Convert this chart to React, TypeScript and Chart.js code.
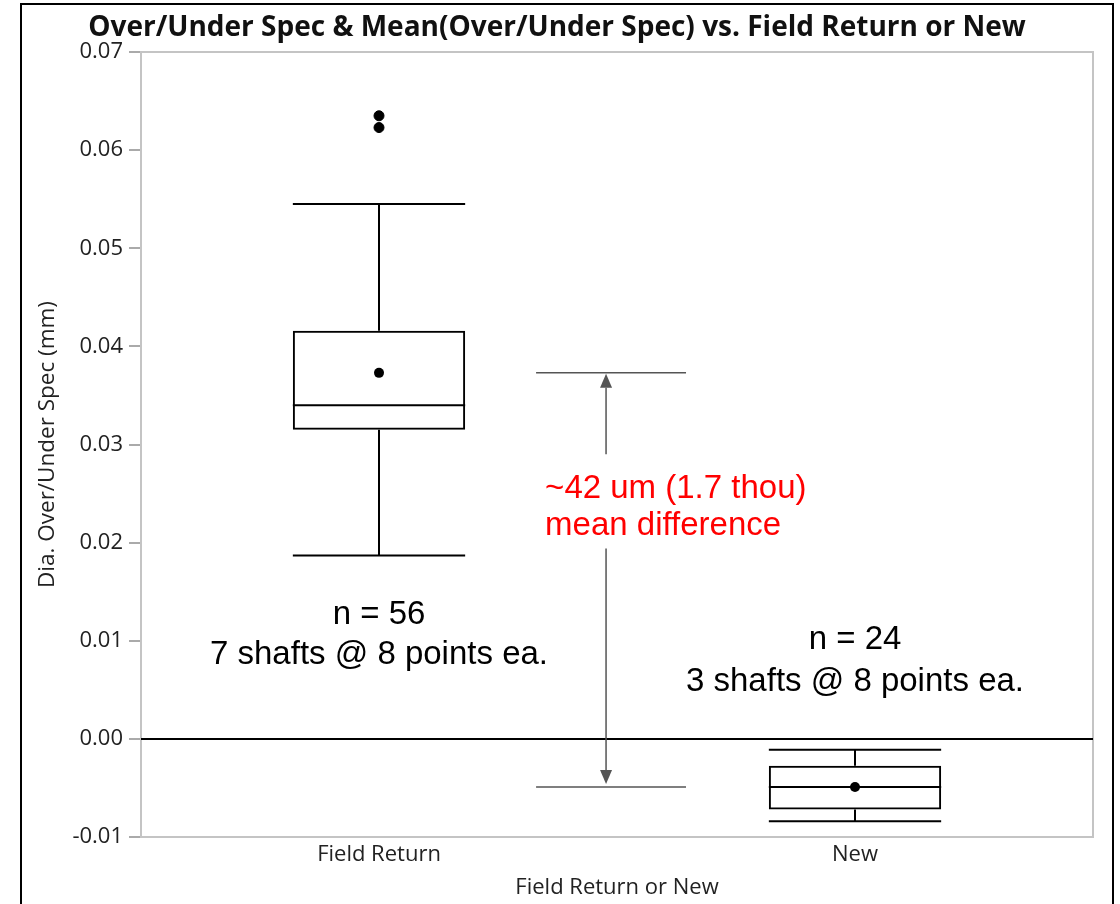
import React, { useEffect, useRef } from 'react';
import { Chart, registerables } from 'chart.js';

Chart.register(...registerables);

// ---- data ----
const categories = ['Field Return', 'New'];
const q1Values = [0.0315, -0.0072];
const q3Values = [0.0416, -0.00275];
const medianValues = [0.034, -0.0049];
const whiskerLowValues = [0.0187, -0.0084];
const whiskerHighValues = [0.0545, -0.0011];
const meanValues = [0.0373, -0.0049];
const outlierPoints = [
  { x: 'Field Return', y: 0.0623 },
  { x: 'Field Return', y: 0.0635 },
];
const yTickValues = [-0.01, 0, 0.01, 0.02, 0.03, 0.04, 0.05, 0.06, 0.07];

const titleText = 'Over/Under Spec & Mean(Over/Under Spec) vs. Field Return or New';
const yTitle = 'Dia. Over/Under Spec (mm)';
const xTitle = 'Field Return or New';

// count annotations (per category), value positions
const countLines = [
  ['n = 56', '7 shafts @ 8 points ea.'],
  ['n = 24', '3 shafts @ 8 points ea.'],
];
const countLineY = [
  [0.0126, 0.0086],
  [0.0101, 0.0058],
];
// mean-difference annotation (x in category-index units, y in data units)
const diffLines = ['~42 um (1.7 thou)', 'mean difference'];
const diffTextX = 0.349;
const diffTextY = [0.0255, 0.0217];
const bracketX = [0.33, 0.645];
const arrowX = 0.477;
const arrowGap = [0.029, 0.0194];

const AXIS_FONT = '"Open Sans", "Noto Sans", sans-serif';
const NOTE_FONT = '"Liberation Sans", Arial, sans-serif';

const extrasPlugin = {
  id: 'boxExtras',
  beforeDraw(chart: any) {
    const { ctx, width, height } = chart;
    ctx.save();
    ctx.fillStyle = '#ffffff';
    ctx.fillRect(0, 0, width, height);
    ctx.strokeStyle = '#000';
    ctx.lineWidth = 2;
    ctx.strokeRect(21, 4, 1092, height + 40);
    ctx.restore();
  },
  beforeDatasetsDraw(chart: any) {
    const { ctx, chartArea: a, scales } = chart;
    const y = scales.y;
    ctx.save();
    ctx.strokeStyle = '#c4c4c4';
    ctx.lineWidth = 2;
    ctx.strokeRect(a.left, a.top, a.right - a.left, a.bottom - a.top);
    const y0 = y.getPixelForValue(0);
    ctx.strokeStyle = '#000';
    ctx.lineWidth = 2;
    ctx.beginPath();
    ctx.moveTo(a.left, y0);
    ctx.lineTo(a.right, y0);
    ctx.stroke();
    ctx.restore();
  },
  afterDatasetsDraw(chart: any) {
    const { ctx, scales } = chart;
    const x = scales.x;
    const y = scales.y;
    const barMeta = chart.getDatasetMeta(chart.data.datasets.findIndex((d: any) => d.type === 'bar'));
    ctx.save();
    ctx.strokeStyle = '#000';
    ctx.lineWidth = 2;
    categories.forEach((_, i) => {
      const el: any = barMeta.data[i];
      const cx = x.getPixelForValue(i);
      const half = el.width / 2;
      const line = (x1: number, y1: number, x2: number, y2: number) => {
        ctx.beginPath();
        ctx.moveTo(x1, y1);
        ctx.lineTo(x2, y2);
        ctx.stroke();
      };
      const pHi = y.getPixelForValue(whiskerHighValues[i]);
      const pLo = y.getPixelForValue(whiskerLowValues[i]);
      const pQ3 = y.getPixelForValue(q3Values[i]);
      const pQ1 = y.getPixelForValue(q1Values[i]);
      const pMed = y.getPixelForValue(medianValues[i]);
      line(cx, pHi, cx, pQ3);
      line(cx, pQ1, cx, pLo);
      line(cx - half, pHi, cx + half, pHi);
      line(cx - half, pLo, cx + half, pLo);
      line(cx - half, pMed, cx + half, pMed);
    });
    // mean dots above median
    ctx.fillStyle = '#000';
    meanValues.forEach((m, i) => {
      ctx.beginPath();
      ctx.arc(x.getPixelForValue(i), y.getPixelForValue(m), 5, 0, Math.PI * 2);
      ctx.fill();
    });

    // mean difference bracket
    ctx.strokeStyle = '#555';
    ctx.fillStyle = '#555';
    ctx.lineWidth = 1.5;
    const bx1 = x.getPixelForValue(bracketX[0]);
    const bx2 = x.getPixelForValue(bracketX[1]);
    const yTop = y.getPixelForValue(meanValues[0]);
    const yBot = y.getPixelForValue(meanValues[1]);
    [yTop, yBot].forEach((py) => {
      ctx.beginPath();
      ctx.moveTo(bx1, py);
      ctx.lineTo(bx2, py);
      ctx.stroke();
    });
    const ax = x.getPixelForValue(arrowX);
    const gapTop = y.getPixelForValue(arrowGap[0]);
    const gapBot = y.getPixelForValue(arrowGap[1]);
    const headH = 14;
    const headW = 6;
    const tipTop = yTop + 1;
    const tipBot = yBot - 3;
    ctx.beginPath();
    ctx.moveTo(ax, tipTop + headH);
    ctx.lineTo(ax, gapTop);
    ctx.moveTo(ax, gapBot);
    ctx.lineTo(ax, tipBot - headH);
    ctx.stroke();
    ctx.beginPath();
    ctx.moveTo(ax, tipTop);
    ctx.lineTo(ax - headW, tipTop + headH);
    ctx.lineTo(ax + headW, tipTop + headH);
    ctx.closePath();
    ctx.fill();
    ctx.beginPath();
    ctx.moveTo(ax, tipBot);
    ctx.lineTo(ax - headW, tipBot - headH);
    ctx.lineTo(ax + headW, tipBot - headH);
    ctx.closePath();
    ctx.fill();

    // red annotation
    ctx.font = `33px ${NOTE_FONT}`;
    ctx.fillStyle = '#ff0000';
    ctx.textAlign = 'left';
    ctx.textBaseline = 'middle';
    const tx = x.getPixelForValue(diffTextX);
    diffLines.forEach((t, k) => ctx.fillText(t, tx, y.getPixelForValue(diffTextY[k])));

    // count annotations
    ctx.fillStyle = '#000';
    ctx.textAlign = 'center';
    countLines.forEach((lines, i) => {
      const cx = x.getPixelForValue(i);
      lines.forEach((t, k) => ctx.fillText(t, cx, y.getPixelForValue(countLineY[i][k])));
    });

    // title
    ctx.font = `bold 28px ${AXIS_FONT}`;
    ctx.fillStyle = '#111';
    ctx.textAlign = 'center';
    ctx.textBaseline = 'middle';
    ctx.fillText(titleText, 557, 28);
    ctx.restore();
  },
};

export default function App() {
  const canvasRef = useRef<HTMLCanvasElement | null>(null);

  useEffect(() => {
    if (!canvasRef.current) return;
    const chart = new Chart(canvasRef.current, {
      type: 'bar',
      data: {
        labels: categories,
        datasets: [
          {
            type: 'scatter',
            label: 'Outliers',
            data: outlierPoints,
            backgroundColor: '#000',
            borderColor: '#000',
            pointRadius: 5,
            pointHoverRadius: 5,
          } as any,
          {
            type: 'bar',
            label: 'Box',
            data: categories.map((_, i) => [q1Values[i], q3Values[i]]),
            backgroundColor: 'rgba(0,0,0,0)',
            borderColor: '#000',
            borderWidth: 2,
            borderSkipped: false,
            barPercentage: 0.362,
            categoryPercentage: 1,
          } as any,
        ],
      },
      options: {
        responsive: false,
        animation: false,
        layout: { padding: { left: 30, right: 27, top: 52, bottom: 0 } },
        plugins: {
          legend: { display: false },
          tooltip: { enabled: false },
          title: { display: false },
        },
        scales: {
          x: {
            type: 'category',
            offset: true,
            grid: { display: false, drawTicks: false },
            border: { display: false },
            ticks: {
              color: '#222',
              font: { family: AXIS_FONT, size: 22 },
              padding: 5,
              maxRotation: 0,
            },
            title: {
              display: true,
              text: xTitle,
              color: '#222',
              font: { family: AXIS_FONT, size: 22 },
              padding: { top: 0, bottom: 3 },
            },
            afterFit: (scale: any) => {
              scale.height = 67;
            },
          },
          y: {
            type: 'linear',
            min: -0.01,
            max: 0.07,
            grid: {
              display: true,
              drawOnChartArea: false,
              drawTicks: true,
              tickLength: 12,
              color: '#aaa',
              lineWidth: 2,
            },
            border: { display: false },
            afterBuildTicks: (scale: any) => {
              scale.ticks = yTickValues.map((value) => ({ value }));
            },
            ticks: {
              color: '#222',
              font: { family: AXIS_FONT, size: 22 },
              padding: 6,
              callback: (v: any) => Number(v).toFixed(2),
            },
            title: {
              display: true,
              text: yTitle,
              color: '#222',
              font: { family: AXIS_FONT, size: 22.5 },
              padding: { top: 4, bottom: 0 },
            },
            afterFit: (scale: any) => {
              scale.width = 111;
            },
          },
        },
      } as any,
      plugins: [extrasPlugin],
    });
    return () => chart.destroy();
  }, []);

  return (
    <div style={{ position: 'absolute', left: 0, top: 0, width: 1120, height: 904 }}>
      <canvas ref={canvasRef} width={1120} height={904} style={{ display: 'block' }} />
    </div>
  );
}
